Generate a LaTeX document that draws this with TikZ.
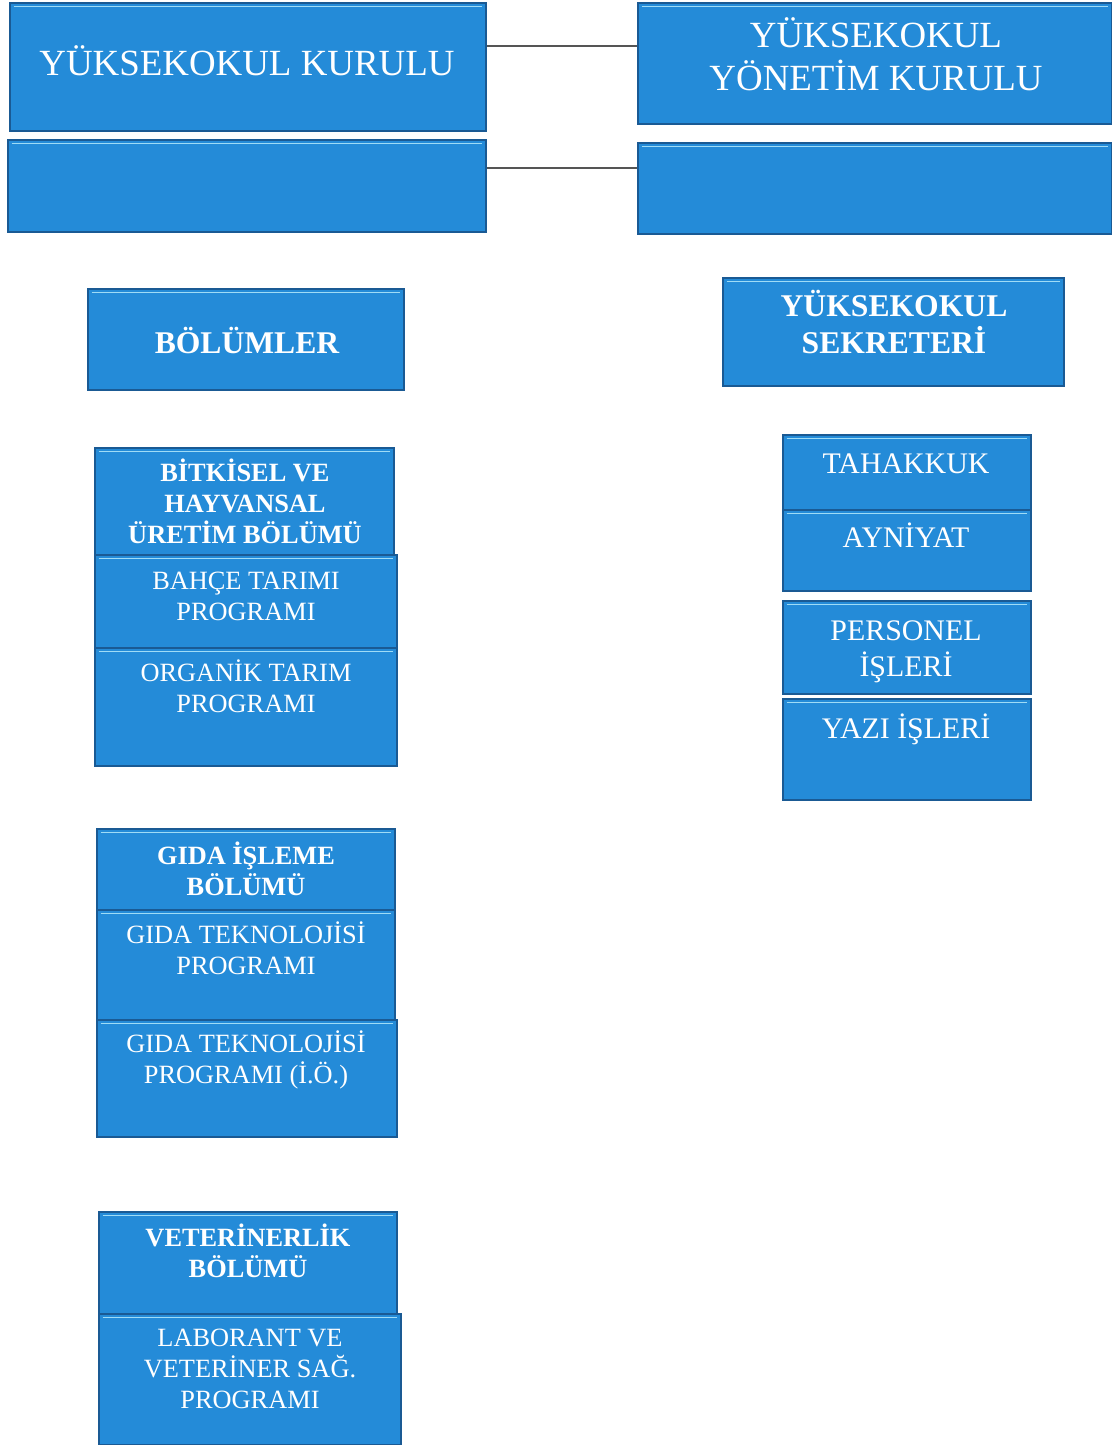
\documentclass[tikz,border=0pt]{standalone}
\usepackage{fontspec}
\setmainfont{Liberation Serif}
\definecolor{boxblue}{HTML}{248BD8}
\definecolor{boxedge}{HTML}{1A5A94}
\definecolor{boxshine}{HTML}{9FDCF6}
\definecolor{linegray}{HTML}{555555}
\tikzset{
  box/.style={rectangle, fill=boxblue, draw=boxedge, line width=1.2pt, inner sep=0pt,
    path picture={\draw[boxshine, line width=1pt]
      ([yshift=-2pt,xshift=2pt]path picture bounding box.north west) --
      ([yshift=-2pt,xshift=-2pt]path picture bounding box.north east);}},
  lbl/.style={text=white, align=center, anchor=base, inner sep=0pt},
  big/.style={lbl, font=\fontsize{21}{24}\selectfont},
  head/.style={lbl, font=\fontsize{18}{21}\selectfont\bfseries},
  side/.style={lbl, font=\fontsize{17}{20.4}\selectfont},
  dept/.style={lbl, font=\fontsize{15}{17.6}\selectfont\bfseries},
  prog/.style={lbl, font=\fontsize{15}{17.6}\selectfont},
  conn/.style={linegray, line width=0.9pt}
}
\begin{document}
\begin{tikzpicture}[x=0.02cm, y=-0.02cm]
\useasboundingbox (0,0) rectangle (1112,1445);

\node[box, minimum width=9.52cm, minimum height=2.56cm] (kurul) at (248,67) {};
\node[box, minimum width=9.56cm, minimum height=1.84cm] (bosSol) at (247,186) {};
\node[box, minimum width=9.48cm, minimum height=2.42cm] (yonetim) at (875,63.5) {};
\node[box, minimum width=9.48cm, minimum height=1.82cm] (bosSag) at (875,188.5) {};

\coordinate (ust) at (0,46);
\coordinate (alt) at (0,168);
\draw[conn] (kurul.east |- ust) -- (yonetim.west |- ust);
\draw[conn] (bosSol.east |- alt) -- (bosSag.west |- alt);

\node[box, minimum width=6.32cm, minimum height=2.02cm] (bolumler) at (246,339.5) {};
\node[box, minimum width=6.82cm, minimum height=2.16cm] (sekreter) at (893.5,332) {};

\node[box, minimum width=5.98cm, minimum height=2.14cm] (bitki) at (244.5,501.5) {};
\node[box, minimum width=6.04cm, minimum height=1.86cm] (bahce) at (246,601.5) {};
\node[box, minimum width=6.04cm, minimum height=2.36cm] (organik) at (246,707) {};

\node[box, minimum width=4.96cm, minimum height=1.5cm] (tahakkuk) at (907,472.5) {};
\node[box, minimum width=4.96cm, minimum height=1.62cm] (ayniyat) at (907,550.5) {};
\node[box, minimum width=4.96cm, minimum height=1.86cm] (personel) at (907,647.5) {};
\node[box, minimum width=4.96cm, minimum height=2.02cm] (yazi) at (907,749.5) {};

\node[box, minimum width=5.96cm, minimum height=1.62cm] (gidaBol) at (246,869.5) {};
\node[box, minimum width=5.96cm, minimum height=2.2cm] (gidaTek) at (246,965) {};
\node[box, minimum width=6.0cm, minimum height=2.34cm] (gidaIO) at (247,1078.5) {};

\node[box, minimum width=5.96cm, minimum height=2.04cm] (veter) at (248,1263) {};
\node[box, minimum width=6.04cm, minimum height=2.62cm] (labor) at (250,1379.5) {};

\node[big] (kurulT) at (247,75) {YÜKSEKOKUL KURULU};
\node[big] (yonetimT) at (876,90) {YÜKSEKOKUL\\YÖNETİM KURULU};
\node[head] (bolumlerT) at (247,353.5) {BÖLÜMLER};
\node[head] (sekreterT) at (894,353.5) {YÜKSEKOKUL\\SEKRETERİ};
\node[dept] (bitkiT) at (245,543) {BİTKİSEL VE\\HAYVANSAL\\ÜRETİM BÖLÜMÜ};
\node[prog] (bahceT) at (246,620) {BAHÇE TARIMI\\PROGRAMI};
\node[prog] (organikT) at (246,712) {ORGANİK TARIM\\PROGRAMI};
\node[side] (tahakkukT) at (906,473) {TAHAKKUK};
\node[side] (ayniyatT) at (906,547) {AYNİYAT};
\node[side] (personelT) at (906,676) {PERSONEL\\İŞLERİ};
\node[side] (yaziT) at (906,738) {YAZI İŞLERİ};
\node[dept] (gidaBolT) at (246,895) {GIDA İŞLEME\\BÖLÜMÜ};
\node[prog] (gidaTekT) at (246,974) {GIDA TEKNOLOJİSİ\\PROGRAMI};
\node[prog] (gidaIOT) at (246,1083) {GIDA TEKNOLOJİSİ\\PROGRAMI (İ.Ö.)};
\node[dept] (veterT) at (248,1277) {VETERİNERLİK\\BÖLÜMÜ};
\node[prog] (laborT) at (250,1408) {LABORANT VE\\VETERİNER SAĞ.\\PROGRAMI};
\end{tikzpicture}
\end{document}
